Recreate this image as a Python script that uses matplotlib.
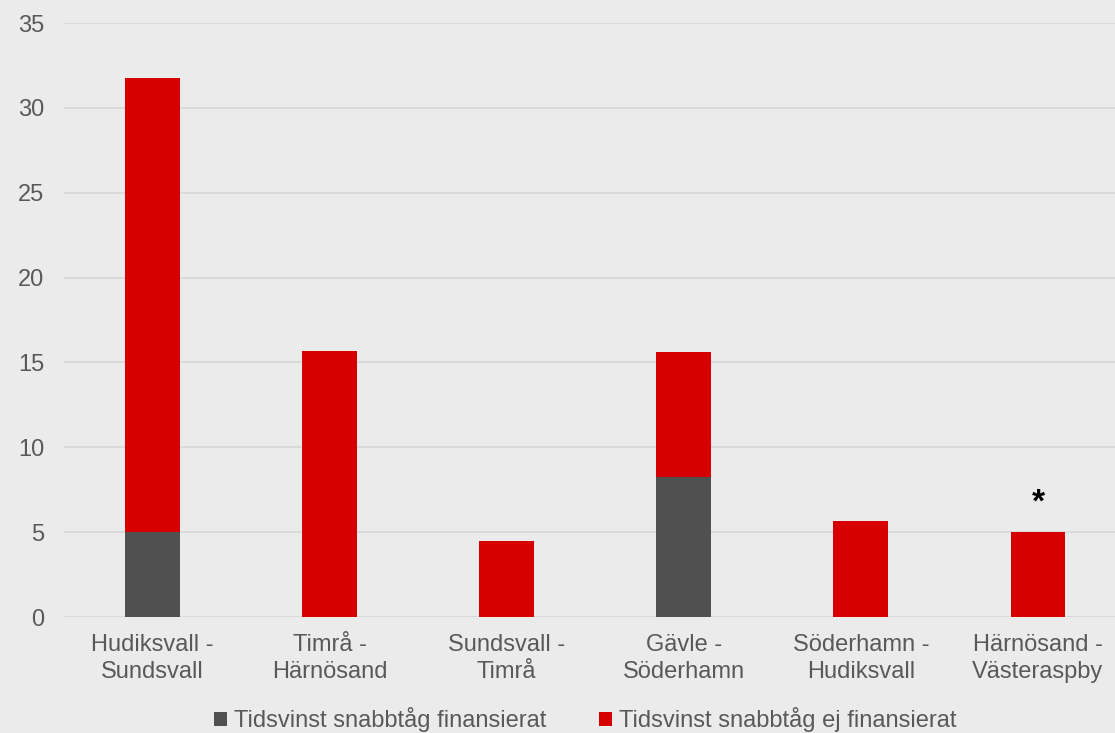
import matplotlib.pyplot as plt
import numpy as np

plt.rcParams['font.family'] = ['Liberation Sans', 'DejaVu Sans']

categories = ["Hudiksvall -\nSundsvall", "Timrå -\nHärnösand", "Sundsvall -\nTimrå",
              "Gävle -\nSöderhamn", "Söderhamn -\nHudiksvall", "Härnösand -\nVästeraspby"]
financed = [5.0, 0, 0, 8.25, 0, 0]
not_financed = [26.75, 15.67, 4.48, 7.35, 5.66, 5.0]

bg = '#ebebeb'
fig = plt.figure(figsize=(11.15, 7.33), dpi=100, facecolor=bg)
ax = fig.add_axes([64/1115, 1-617/733, 1-64/1115, (617-23)/733], facecolor=bg)

x = np.arange(len(categories))
ax.bar(x, financed, width=0.31, color='#505050', label='Tidsvinst snabbtåg finansierat', zorder=3)
ax.bar(x, not_financed, width=0.31, bottom=financed, color='#d70000',
       label='Tidsvinst snabbtåg ej finansierat', zorder=3)

# asterisk over last bar
ax.text(x[-1], not_financed[-1] + 0.8, '*', ha='center', va='bottom', fontsize=24,
        fontweight='bold', color='black')

ax.set_ylim(0, 35)
ax.set_xlim(-0.5, 5.435)
ax.set_yticks(range(0, 36, 5))
ax.set_xticks(x)
ax.set_xticklabels(categories, linespacing=1.3)
ax.grid(axis='y', color='#d9d9d9', linewidth=1.3, zorder=0)
for s in ax.spines.values():
    s.set_visible(False)
ax.tick_params(axis='both', length=0, labelsize=17, colors='#595959')
ax.tick_params(axis='y', pad=14)
ax.tick_params(axis='x', pad=12)

fig.legend(*ax.get_legend_handles_labels(), loc='center', bbox_to_anchor=(0.525, 0.018),
           ncol=2, frameon=False, fontsize=17, labelcolor='#595959', handlelength=0.55,
           handleheight=0.55, handletextpad=0.3, columnspacing=2.2, borderpad=0)

fig.savefig('out.png', dpi=100, facecolor=bg)
